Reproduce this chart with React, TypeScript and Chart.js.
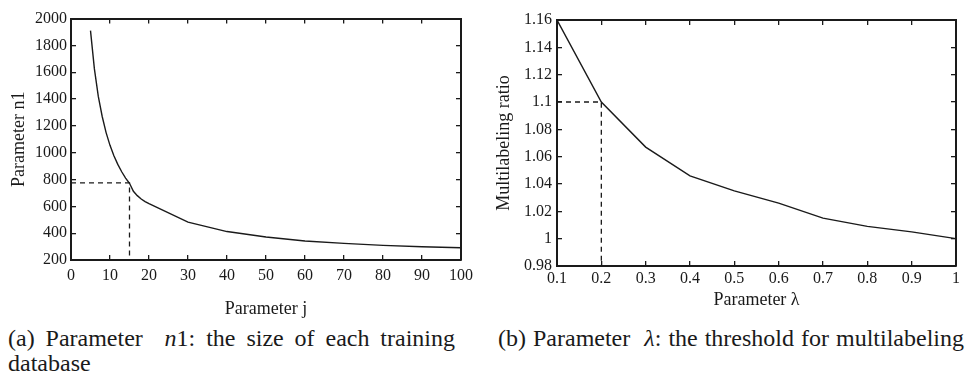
import React, { useEffect, useRef } from "react";
import { Chart, registerables } from "chart.js";

Chart.register(...registerables);

// ---- Data: panel (a) ----
const jValues = [5, 6, 7, 8, 9, 10, 11, 12, 13, 14, 15, 16, 17, 18, 19, 20, 30, 40, 50, 60, 70, 80, 90, 100];
const n1Values = [1910, 1625, 1420, 1270, 1150, 1055, 978, 913, 858, 811, 772, 712, 680, 655, 636, 620, 482, 412, 372, 342, 324, 309, 299, 291];
const jTickRange = [0, 100, 10];
const n1TickRange = [200, 2000, 200];
const selectedJ = 15;
const selectedN1 = 775;

// ---- Data: panel (b) ----
const lambdaValues = [0.1, 0.2, 0.3, 0.4, 0.5, 0.6, 0.7, 0.8, 0.9, 1.0];
const ratioValues = [1.16, 1.1, 1.067, 1.046, 1.035, 1.026, 1.015, 1.009, 1.005, 1.0];
const lambdaTickRange = [0.1, 1, 0.1];
const ratioTickRange = [0.98, 1.16, 0.02];
const selectedLambda = 0.2;
const selectedRatio = 1.1;

const FONT = "'Liberation Serif', 'Times New Roman', serif";
const INK = "#1a1a1a";

const fmt = (v: number) => String(Math.round(v * 1000) / 1000);

type PanelOpts = {
  xs: number[];
  ys: number[];
  markX: number;
  markY: number;
  xRange: number[];
  yRange: number[];
  xTitle: string;
  yTitle: string;
  leftWidth: number;
  bottomHeight: number;
  padTop: number;
  padRight: number;
  yTitlePad: number;
  xTitlePad: number;
  yLabelPad: number;
  xLabelPad: number;
};

function makeConfig(o: PanelOpts): any {
  const grid = {
    drawOnChartArea: false,
    drawTicks: true,
    tickLength: -5,
    color: INK,
    lineWidth: 1.3,
  };
  const border = { display: true, color: INK, width: 2 };
  const tickFont = { family: FONT, size: 16 };
  const titleFont = { family: FONT, size: 18 };
  const [xMin, xMax, xStep] = o.xRange;
  const [yMin, yMax, yStep] = o.yRange;
  return {
    type: "line",
    data: {
      datasets: [
        {
          data: o.xs.map((x, i) => ({ x, y: o.ys[i] })),
          borderColor: INK,
          borderWidth: 1.4,
          pointRadius: 0,
          tension: 0,
          fill: false,
          xAxisID: "x",
          yAxisID: "y",
        },
        {
          data: [
            { x: xMin, y: o.markY },
            { x: o.markX, y: o.markY },
            { x: o.markX, y: yMin },
          ],
          borderColor: INK,
          borderWidth: 1.3,
          borderDash: [5, 4],
          pointRadius: 0,
          tension: 0,
          fill: false,
          xAxisID: "x",
          yAxisID: "y",
        },
      ],
    },
    options: {
      responsive: false,
      animation: false,
      devicePixelRatio: 1,
      layout: { padding: 0 },
      plugins: { legend: { display: false }, tooltip: { enabled: false } },
      scales: {
        x: {
          type: "linear",
          position: "bottom",
          min: xMin,
          max: xMax,
          ticks: {
            stepSize: xStep,
            color: INK,
            font: tickFont,
            padding: o.xLabelPad,
            maxRotation: 0,
            autoSkip: false,
            callback: (v: number) => fmt(v),
          },
          grid,
          border,
          title: {
            display: true,
            text: o.xTitle,
            color: INK,
            font: titleFont,
            padding: { top: 0, bottom: o.xTitlePad },
          },
          afterFit: (s: any) => {
            s.height = o.bottomHeight;
          },
        },
        x2: {
          type: "linear",
          position: "top",
          min: xMin,
          max: xMax,
          ticks: { stepSize: xStep, display: false },
          grid,
          border,
          afterFit: (s: any) => {
            s.height = o.padTop;
          },
        },
        y: {
          type: "linear",
          position: "left",
          min: yMin,
          max: yMax,
          ticks: {
            stepSize: yStep,
            color: INK,
            font: tickFont,
            padding: o.yLabelPad,
            autoSkip: false,
            callback: (v: number) => fmt(v),
          },
          grid,
          border,
          title: {
            display: true,
            text: o.yTitle,
            color: INK,
            font: titleFont,
            padding: { top: o.yTitlePad, bottom: 0 },
          },
          afterFit: (s: any) => {
            s.width = o.leftWidth;
          },
        },
        y2: {
          type: "linear",
          position: "right",
          min: yMin,
          max: yMax,
          ticks: { stepSize: yStep, display: false },
          grid,
          border,
          afterFit: (s: any) => {
            s.width = o.padRight;
          },
        },
      },
    },
  };
}

function Panel({ cfg, left }: { cfg: PanelOpts; left: number }) {
  const ref = useRef<HTMLCanvasElement>(null);
  useEffect(() => {
    if (!ref.current) return;
    const chart = new Chart(ref.current, makeConfig(cfg));
    return () => chart.destroy();
  }, []);
  return (
    <canvas
      ref={ref}
      width={484}
      height={320}
      style={{ position: "absolute", left, top: 0, width: 484, height: 320 }}
    />
  );
}

const captionStyle: React.CSSProperties = {
  position: "absolute",
  fontFamily: FONT,
  fontSize: 24,
  lineHeight: "25px",
  color: INK,
  whiteSpace: "nowrap",
};

const justified: React.CSSProperties = {
  ...captionStyle,
  whiteSpace: "normal",
  textAlign: "justify",
  textAlignLast: "justify",
};

export default function App() {
  const panelA: PanelOpts = {
    xs: jValues,
    ys: n1Values,
    markX: selectedJ,
    markY: selectedN1,
    xRange: jTickRange,
    yRange: n1TickRange,
    xTitle: "Parameter j",
    yTitle: "Parameter n1",
    leftWidth: 71,
    bottomHeight: 60,
    padTop: 16,
    padRight: 17,
    yTitlePad: 8,
    xTitlePad: 0,
    yLabelPad: 9,
    xLabelPad: 11,
  };
  const panelB: PanelOpts = {
    xs: lambdaValues,
    ys: ratioValues,
    markX: selectedLambda,
    markY: selectedRatio,
    xRange: lambdaTickRange,
    yRange: ratioTickRange,
    xTitle: "Parameter λ",
    yTitle: "Multilabeling ratio",
    leftWidth: 73,
    bottomHeight: 54,
    padTop: 20,
    padRight: 11,
    yTitlePad: 9,
    xTitlePad: 9,
    yLabelPad: 10,
    xLabelPad: 8,
  };
  return (
    <div
      style={{
        position: "absolute",
        left: 0,
        top: 0,
        width: 968,
        height: 378,
        background: "#fff",
        overflow: "hidden",
      }}
    >
      <Panel cfg={panelA} left={0} />
      <Panel cfg={panelB} left={484} />
      <div style={{ ...justified, left: 8, top: 326, width: 447 }}>
        (a) Parameter&nbsp;&nbsp;<i>n</i>1: the size of each training
      </div>
      <div style={{ ...captionStyle, left: 8, top: 351 }}>database</div>
      <div style={{ ...justified, left: 498, top: 326, width: 466 }}>
        (b) Parameter&nbsp;&nbsp;<i>λ</i>: the threshold for multilabeling
      </div>
    </div>
  );
}
